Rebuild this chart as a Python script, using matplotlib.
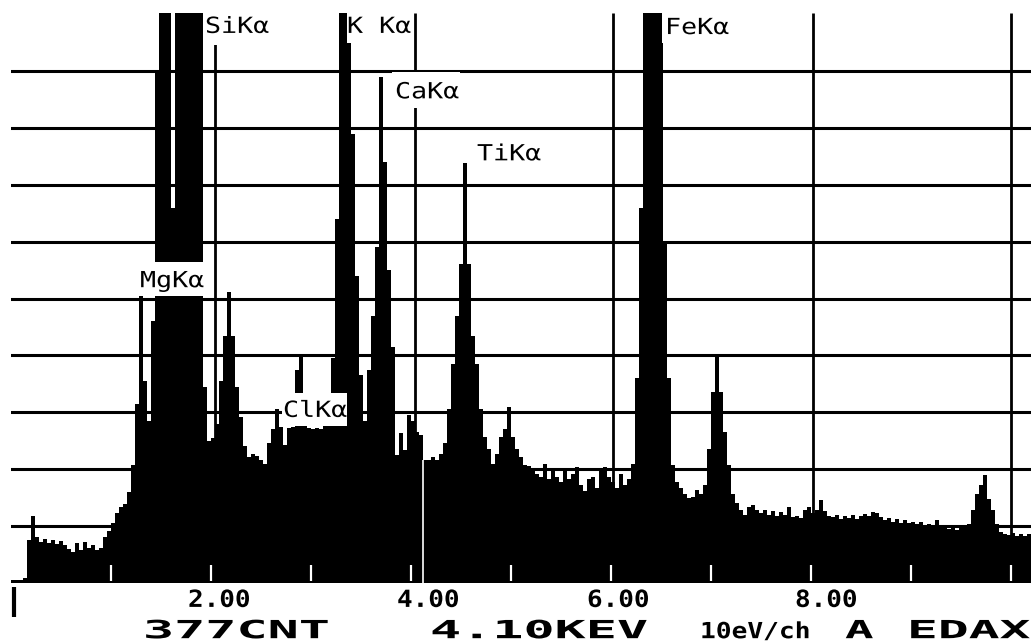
import numpy as np
from matplotlib import pyplot as plt
from matplotlib.patches import Rectangle
from matplotlib.patheffects import AbstractPathEffect
from matplotlib.transforms import Affine2D


# EDAX spectrum
# 4 channels of 10 eV per bin, heights in screen divisions (full scale = 10)
bin_kev = 0.04
counts_0_256 = [0.05, 0.06, 0.06, 0.08, 0.75, 1.18, 0.80, 0.72, 0.78, 0.70,
                0.76, 0.68, 0.74, 0.66, 0.60, 0.55, 0.70, 0.58, 0.72, 0.62,
                0.66, 0.58, 0.62, 0.80, 0.92, 1.05, 1.23, 1.34, 1.38, 1.60,
                2.07, 3.15, 5.30, 3.55, 2.85, 4.60, 9.00, 10.5, 10.5, 10.5,
                6.60, 10.5, 10.5, 10.5, 10.5, 10.5, 10.5, 10.5, 3.45, 2.50,
                2.55, 2.80, 3.55, 4.35, 5.11, 4.35, 3.45, 2.92, 2.40, 2.22,
                2.26, 2.24, 2.17, 2.10]
counts_256_512 = [2.46, 2.70, 3.05, 2.75, 2.42, 2.72, 2.74, 3.75, 4.00, 2.95,
                  2.72, 2.70, 2.73, 2.70, 2.76, 2.76, 3.95, 6.40, 10.5, 10.5,
                  10.5, 7.90, 5.40, 3.65, 2.85, 3.75, 4.70, 5.90, 8.89, 7.40,
                  5.50, 4.15, 2.25, 2.64, 2.33, 2.95, 2.85, 2.66, 2.60, 2.17,
                  2.17, 2.22, 2.17, 2.26, 2.46, 3.05, 3.85, 4.70, 5.60, 7.38,
                  5.60, 4.35, 3.85, 3.05, 2.56, 2.36, 2.10, 2.26, 2.56, 2.70,
                  3.09, 2.56, 2.36, 2.21]
counts_512_768 = [2.07, 2.05, 1.97, 1.92, 1.87, 2.10, 1.82, 2.02, 1.87, 1.77,
                  2.02, 1.82, 1.92, 2.04, 1.72, 1.62, 1.82, 1.87, 1.67, 1.99,
                  2.04, 1.87, 1.77, 1.67, 1.92, 1.72, 1.82, 2.10, 3.60, 6.60,
                  10.5, 10.5, 10.5, 10.5, 10.5, 6.00, 3.60, 2.07, 1.77, 1.67,
                  1.57, 1.50, 1.52, 1.63, 1.57, 1.72, 2.36, 3.35, 4.00, 3.35,
                  2.66, 2.07, 1.57, 1.41, 1.28, 1.20, 1.34, 1.37, 1.28, 1.23,
                  1.28, 1.20, 1.26, 1.18]
counts_768_1024 = [1.24, 1.20, 1.34, 1.16, 1.18, 1.14, 1.28, 1.34, 1.23, 1.28,
                   1.46, 1.26, 1.18, 1.16, 1.20, 1.13, 1.18, 1.15, 1.20, 1.13,
                   1.18, 1.22, 1.18, 1.25, 1.23, 1.16, 1.10, 1.14, 1.08, 1.12,
                   1.06, 1.10, 1.05, 1.08, 1.03, 1.08, 0.98, 1.04, 0.98, 1.10,
                   0.98, 1.02, 0.95, 1.00, 0.94, 0.98, 0.96, 1.03, 1.28, 1.57,
                   1.72, 1.90, 1.48, 1.28, 1.03, 0.90, 0.87, 0.84, 0.88, 0.83,
                   0.87, 0.82, 0.86, 0.84]

grid_kev = [2.04, 4.04, 6.02, 8.02, 10.0]
grid_div = [1, 2, 3, 4, 5, 6, 7, 8, 9]
tick_kev = [1, 2, 3, 4, 5, 6, 7, 8, 9, 10]
cursor_kev = 4.12
cursor_div = 2.17

axis_labels = ['2.00', '4.00', '6.00', '8.00']
axis_label_kev = [1.77, 3.86, 5.76, 7.84]

peak_names = ['MgKα', 'SiKα', 'ClKα', 'K Kα', 'CaKα', 'TiKα', 'FeKα']
peak_text_xy = [(1.29, 5.20), (1.94, 9.67), (2.72, 2.92), (3.36, 9.67),
                (3.84, 8.52), (4.66, 7.43), (6.54, 9.65)]
peak_boxes = [(1.26, 5.04, 1.93, 5.64), (1.93, 9.46, 2.57, 10.1),
              (2.71, 2.76, 3.36, 3.34), (3.36, 9.49, 4.01, 10.1),
              (3.81, 8.35, 4.49, 8.98), (4.61, 7.29, 5.29, 7.87),
              (6.51, 9.49, 7.21, 10.1)]

footer_text = ['377CNT', '4.10KEV', '10eV/ch', 'A', 'EDAX']
footer_kev = [1.32, 4.19, 6.89, 8.34, 8.96]
footer_size = [18, 18, 16, 18, 18]
footer_stretch = [2.07, 2.07, 1.18, 1.9, 2.05]


# 화면 글꼴처럼 가로로 넓힌 글자
class Stretch(AbstractPathEffect):
    def __init__(self, sx):
        super().__init__()
        self.sx = sx

    def draw_path(self, renderer, gc, tpath, affine, rgbFace=None):
        renderer.draw_path(gc, tpath, Affine2D().scale(self.sx, 1) + affine, rgbFace)


def screen_text(ax, x, y, s, size, sx, weight='normal'):
    ax.text(x, y, s, fontsize=size, family='DejaVu Sans Mono', color='black',
            fontweight=weight, ha='left', va='baseline', clip_on=False, zorder=6,
            path_effects=[Stretch(sx)])


counts = np.array(counts_0_256 + counts_256_512 + counts_512_768 + counts_768_1024)
edges = np.arange(len(counts) + 1) * bin_kev

fig = plt.figure(figsize=(10.31, 6.43), dpi=100)
ax = fig.add_axes([11 / 1031, 60 / 643, 1020 / 1031, 570 / 643])
ax.set_xlim(0, 10.2)
ax.set_ylim(0, 10.02)
ax.axis('off')

# 격자
for g in grid_div:
    ax.axhline(g, color='black', lw=2.2, zorder=1)
ax.vlines(grid_kev, 0, 10.02, colors='black', lw=2.0, zorder=1)

# 스펙트럼
ax.stairs(counts, edges, fill=True, color='black', lw=0.6, zorder=2)

# 눈금과 커서 (검은 영역 위라 흰색)
ax.vlines(tick_kev, 0.03, 0.32, colors='white', lw=1.6, zorder=3)
ax.vlines(cursor_kev, 0.0, cursor_div, colors='white', lw=1.2, zorder=3)
ax.plot([0.03, 0.03], [-0.07, -0.60], color='black', lw=3, clip_on=False,
        solid_capstyle='butt')

# 원소 표시
for name, (tx, ty), (x0, y0, x1, y1) in zip(peak_names, peak_text_xy, peak_boxes):
    ax.add_patch(Rectangle((x0, y0), x1 - x0, y1 - y0, facecolor='white',
                           edgecolor='none', zorder=5, clip_on=False))
    screen_text(ax, tx, ty, name, 16, 1.2)

for lab, x in zip(axis_labels, axis_label_kev):
    screen_text(ax, x, -0.42, lab, 17, 1.1, 'bold')

for s, x, size, sx in zip(footer_text, footer_kev, footer_size, footer_stretch):
    screen_text(ax, x, -0.97, s, size, sx, 'bold')

fig.savefig('out.png', dpi=100, facecolor='white')
